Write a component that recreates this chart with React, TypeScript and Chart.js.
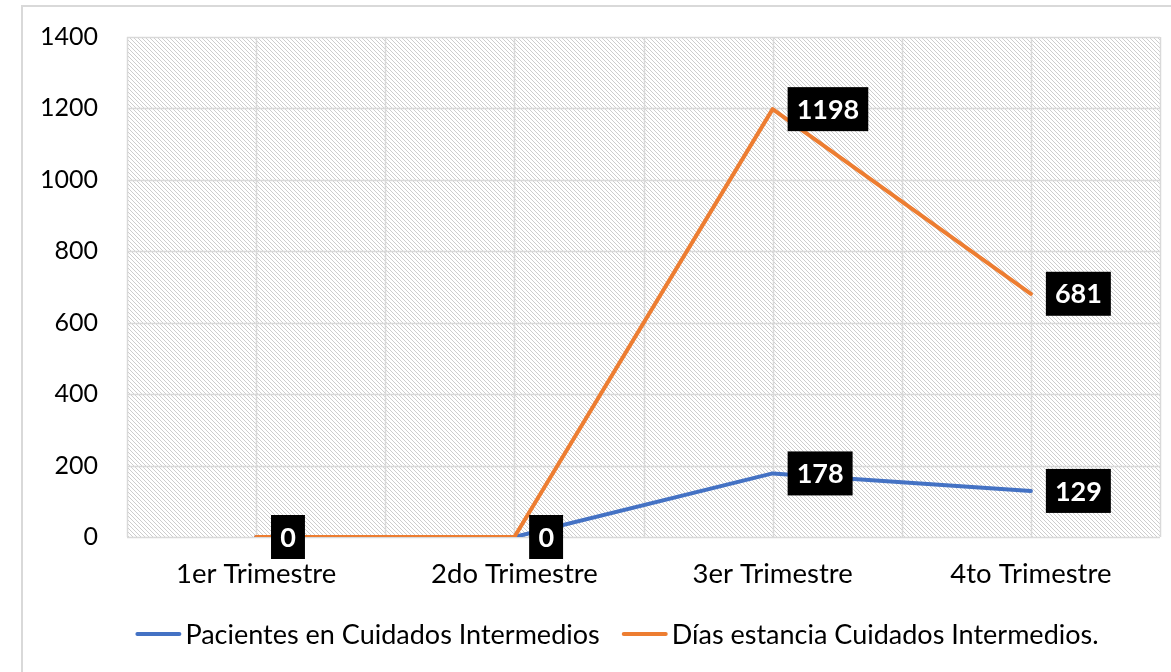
import React, { useEffect, useRef } from 'react';
import { Chart, registerables } from 'chart.js';

Chart.register(...registerables);

const categories = ['1er Trimestre', '2do Trimestre', '3er Trimestre', '4to Trimestre'];
const pacientes = [0, 0, 178, 129];
const dias = [0, 0, 1198, 681];
const seriesNames = ['Pacientes en Cuidados Intermedios', 'Días estancia Cuidados Intermedios.'];
const seriesColors = ['#4472C4', '#ED7D31'];
const yMin = 0;
const yMax = 1400;
const yStep = 200;

const FONT = 'Lato, "Open Sans", sans-serif';
const FRAME_LEFT = 22;
const FRAME_TOP = 6;
const FRAME_WIDTH = 1190;

function makePattern(ctx: CanvasRenderingContext2D) {
  const c = document.createElement('canvas');
  c.width = 4;
  c.height = 4;
  const g = c.getContext('2d')!;
  g.fillStyle = '#ffffff';
  g.fillRect(0, 0, 4, 4);
  g.fillStyle = '#cdcdcd';
  for (let i = 0; i < 4; i++) g.fillRect(i, i, 1, 1);
  return ctx.createPattern(c, 'repeat');
}

const backgroundPlugin = {
  id: 'bgPlugin',
  beforeDraw(chart: any) {
    const ctx = chart.ctx as CanvasRenderingContext2D;
    const { left, right, top, bottom } = chart.chartArea;
    ctx.save();
    ctx.fillStyle = '#ffffff';
    ctx.fillRect(0, 0, chart.width, chart.height);
    // outer frame
    ctx.strokeStyle = '#d9d9d9';
    ctx.lineWidth = 2;
    ctx.strokeRect(FRAME_LEFT, FRAME_TOP, FRAME_WIDTH, chart.height + 20);
    // hatch
    const pat = makePattern(ctx);
    if (pat) {
      ctx.fillStyle = pat;
      ctx.fillRect(left, top, right - left, bottom - top);
    }
    // grid lines
    ctx.strokeStyle = '#d9d9d9';
    ctx.lineWidth = 1.5;
    const ys = chart.scales.y;
    for (let v = yMin; v <= yMax; v += yStep) {
      const py = Math.round(ys.getPixelForValue(v)) + 0.5;
      ctx.beginPath();
      ctx.moveTo(left, py);
      ctx.lineTo(right, py);
      ctx.stroke();
    }
    const xs = chart.scales.x;
    for (let i = -0.5; i <= categories.length - 0.5; i += 0.5) {
      const px = Math.round(xs.getPixelForValue(i)) + 0.5;
      ctx.beginPath();
      ctx.moveTo(px, top);
      ctx.lineTo(px, bottom);
      ctx.stroke();
    }
    ctx.restore();
  },
  afterDatasetsDraw(chart: any) {
    const ctx = chart.ctx as CanvasRenderingContext2D;
    ctx.save();
    ctx.font = `bold 27px ${FONT}`;
    ctx.textAlign = 'center';
    ctx.textBaseline = 'middle';
    chart.data.datasets.forEach((ds: any, di: number) => {
      const meta = chart.getDatasetMeta(di);
      meta.data.forEach((pt: any, i: number) => {
        const txt = String(ds.data[i]);
        const w = ctx.measureText(txt).width + 18;
        const h = 44;
        const bx = pt.x + 15;
        const by = pt.y - h / 2;
        ctx.fillStyle = '#000000';
        ctx.fillRect(bx, by, w, h);
        ctx.fillStyle = '#ffffff';
        ctx.fillText(txt, bx + w / 2, pt.y + 1);
      });
    });
    ctx.restore();
  },
  afterDraw(chart: any) {
    // legend
    const ctx = chart.ctx as CanvasRenderingContext2D;
    ctx.save();
    ctx.font = `27px ${FONT}`;
    ctx.textBaseline = 'middle';
    ctx.textAlign = 'left';
    const lineW = 46;
    const gap = 4;
    const itemGap = 22;
    const items = chart.data.datasets.map((ds: any) => ({
      text: ds.label as string,
      color: ds.borderColor as string,
      w: ctx.measureText(ds.label).width,
    }));
    const total = items.reduce((a: number, it: any) => a + lineW + gap + it.w, 0) + itemGap * (items.length - 1);
    let x = FRAME_LEFT + FRAME_WIDTH / 2 - total / 2;
    const y = 634;
    items.forEach((it: any) => {
      ctx.strokeStyle = it.color;
      ctx.lineWidth = 4;
      ctx.lineCap = 'round';
      ctx.beginPath();
      ctx.moveTo(x + 2, y);
      ctx.lineTo(x + lineW - 2, y);
      ctx.stroke();
      x += lineW + gap;
      ctx.fillStyle = '#000000';
      ctx.fillText(it.text, x, y + 1);
      x += it.w + itemGap;
    });
    ctx.restore();
  },
};

export default function App() {
  const ref = useRef<HTMLCanvasElement | null>(null);

  useEffect(() => {
    if (!ref.current) return;
    const chart = new Chart(ref.current, {
      type: 'line',
      data: {
        labels: categories,
        datasets: [
          {
            label: seriesNames[0],
            data: pacientes,
            borderColor: seriesColors[0],
            backgroundColor: seriesColors[0],
            borderWidth: 4,
            pointRadius: 0,
            pointHoverRadius: 0,
            borderCapStyle: 'round',
            borderJoinStyle: 'round',
            order: 1,
          },
          {
            label: seriesNames[1],
            data: dias,
            borderColor: seriesColors[1],
            backgroundColor: seriesColors[1],
            borderWidth: 4,
            pointRadius: 0,
            pointHoverRadius: 0,
            borderCapStyle: 'round',
            borderJoinStyle: 'round',
            order: 0,
          },
        ],
      },
      options: {
        responsive: false,
        animation: false,
        layout: { padding: { left: 0, right: 11, top: 37, bottom: 73 } },
        scales: {
          x: {
            offset: true,
            grid: { display: false, drawTicks: false },
            border: { display: false },
            ticks: { color: '#000000', font: { family: FONT, size: 27.5 }, padding: 21, maxRotation: 0 },
            afterFit: (s: any) => {
              s.height = 62;
              s.paddingLeft = 0;
              s.paddingRight = 0;
            },
          },
          y: {
            min: yMin,
            max: yMax,
            grid: { display: false, drawTicks: false },
            border: { display: false },
            ticks: {
              stepSize: yStep,
              color: '#000000',
              font: { family: FONT, size: 25 },
              padding: 29,
              callback: (v: any) => String(v),
            },
            afterFit: (s: any) => {
              s.width = 127;
              s.paddingTop = 0;
              s.paddingBottom = 0;
            },
          },
        },
        plugins: {
          tooltip: { enabled: false },
          legend: { display: false },
        },
      },
      plugins: [backgroundPlugin],
    });
    return () => chart.destroy();
  }, []);

  return (
    <div style={{ position: 'fixed', left: 0, top: 0, width: 1171, height: 672, background: '#fff' }}>
      <canvas ref={ref} width={1171} height={672} />
    </div>
  );
}
